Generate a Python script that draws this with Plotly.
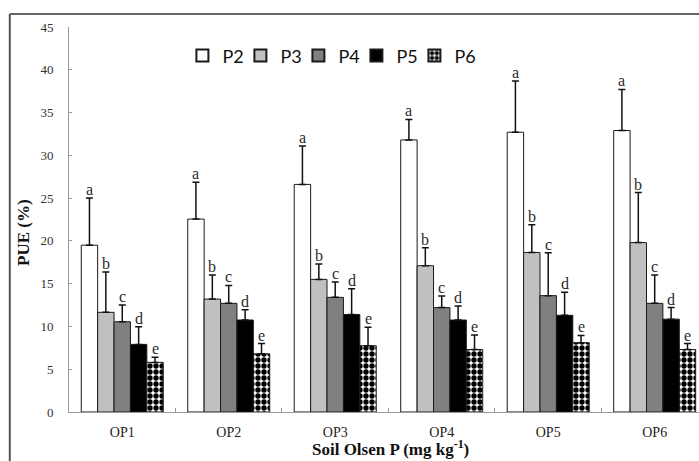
import plotly.graph_objects as go

categories = ["OP1", "OP2", "OP3", "OP4", "OP5", "OP6"]
series_names = ["P2", "P3", "P4", "P5", "P6"]

p2 = [19.5, 22.55, 26.6, 31.8, 32.7, 32.9]
p3 = [11.65, 13.2, 15.5, 17.1, 18.65, 19.8]
p4 = [10.55, 12.7, 13.4, 12.2, 13.6, 12.7]
p5 = [7.9, 10.75, 11.4, 10.75, 11.3, 10.85]
p6 = [5.8, 6.8, 7.75, 7.3, 8.1, 7.3]

p2_err = [5.5, 4.3, 4.5, 2.4, 6.0, 4.8]
p3_err = [4.7, 2.8, 1.8, 2.1, 3.25, 5.85]
p4_err = [1.95, 2.1, 1.8, 1.35, 5.0, 3.3]
p5_err = [2.05, 1.2, 3.0, 1.65, 2.7, 1.35]
p6_err = [0.6, 1.2, 2.15, 1.7, 0.85, 0.7]

letters = ["a", "b", "c", "d", "e"]
y_ticks = [0, 5, 10, 15, 20, 25, 30, 35, 40, 45]

values = [p2, p3, p4, p5, p6]
errors = [p2_err, p3_err, p4_err, p5_err, p6_err]
fills = ["#ffffff", "#c0c0c0", "#808080", "#000000", "#ffffff"]

BARGAP = 0.23
serif = "Liberation Serif, Times New Roman, serif"

fig = go.Figure()
for i, name in enumerate(series_names):
    marker = dict(color=fills[i], line=dict(color="#1a1a1a", width=1))
    if name == "P6":
        marker["pattern"] = dict(shape=".", fgcolor="#000000", bgcolor="#ffffff",
                                 size=6, solidity=0.62, fillmode="replace")
    fig.add_trace(go.Bar(
        name=name, x=categories, y=values[i], marker=marker,
        error_y=dict(type="data", array=errors[i], arrayminus=[0] * len(categories),
                     symmetric=False, color="#111111", thickness=1.5, width=3.5),
    ))

# invisible spacer entry so the last legend label is not clipped
fig.add_trace(go.Scatter(x=[None], y=[None], mode="markers", name="&nbsp;",
                         marker=dict(color="rgba(0,0,0,0)", size=1,
                                     line=dict(width=0, color="rgba(0,0,0,0)")),
                         hoverinfo="skip"))

# significance letters above the error bars
n = len(series_names)
bw = (1 - BARGAP) / n
for i in range(n):
    for ci, cat in enumerate(categories):
        fig.add_annotation(
            x=ci + (i - (n - 1) / 2) * bw, y=values[i][ci] + errors[i][ci],
            xref="x", yref="y", text=letters[i], showarrow=False,
            xanchor="center", yanchor="bottom", yshift=-2,
            font=dict(family=serif, size=16, color="#2a2a2a"),
        )

# axis titles
fig.add_annotation(x=-0.0714, y=0.465, xref="paper", yref="paper",
                   xanchor="center", yanchor="middle",
                   text="<b>PUE (%)</b>", textangle=-90, showarrow=False,
                   font=dict(family=serif, size=17, color="#111111"))
fig.add_annotation(x=0.51, y=-0.094, xref="paper", yref="paper",
                   xanchor="center", yanchor="middle",
                   text="<b>Soil Olsen P (mg kg<sup>-1</sup>)</b>", showarrow=False,
                   font=dict(family=serif, size=17, color="#111111"))

# outer frame (top and left edges visible)
fig.add_shape(type="line", xref="paper", yref="paper", x0=-0.094, x1=1.05,
              y0=1.034, y1=1.034, line=dict(color="#666666", width=2))
fig.add_shape(type="line", xref="paper", yref="paper", x0=-0.094, x1=-0.094,
              y0=1.034, y1=-0.2, line=dict(color="#555555", width=2))

fig.update_layout(
    width=699, height=461,
    margin=dict(l=69, r=0, t=27, b=49),
    paper_bgcolor="white", plot_bgcolor="white",
    barmode="group", bargap=BARGAP, bargroupgap=0,
    showlegend=True,
    legend=dict(orientation="h", x=0.18, y=0.925, xanchor="left", yanchor="middle",
                font=dict(family="Lato, Open Sans, sans-serif", size=18, color="#111111"),
                bgcolor="rgba(0,0,0,0)", entrywidth=13, itemsizing="constant"),
    xaxis=dict(range=[-0.5, 5.416], showline=True, linecolor="#999999", linewidth=1,
               ticks="inside", ticklen=4, tickcolor="#999999", tickson="boundaries",
               tickfont=dict(family=serif, size=14, color="#222222"),
               ticklabelstandoff=7, showgrid=False, zeroline=False),
    yaxis=dict(range=[0, 45], tickvals=y_ticks, showline=True, linecolor="#999999",
               linewidth=1, ticks="inside", ticklen=3, tickcolor="#999999",
               tickfont=dict(family=serif, size=13, color="#333333"),
               ticklabelstandoff=12, showgrid=False, zeroline=False),
)

fig.write_html("out.html")
